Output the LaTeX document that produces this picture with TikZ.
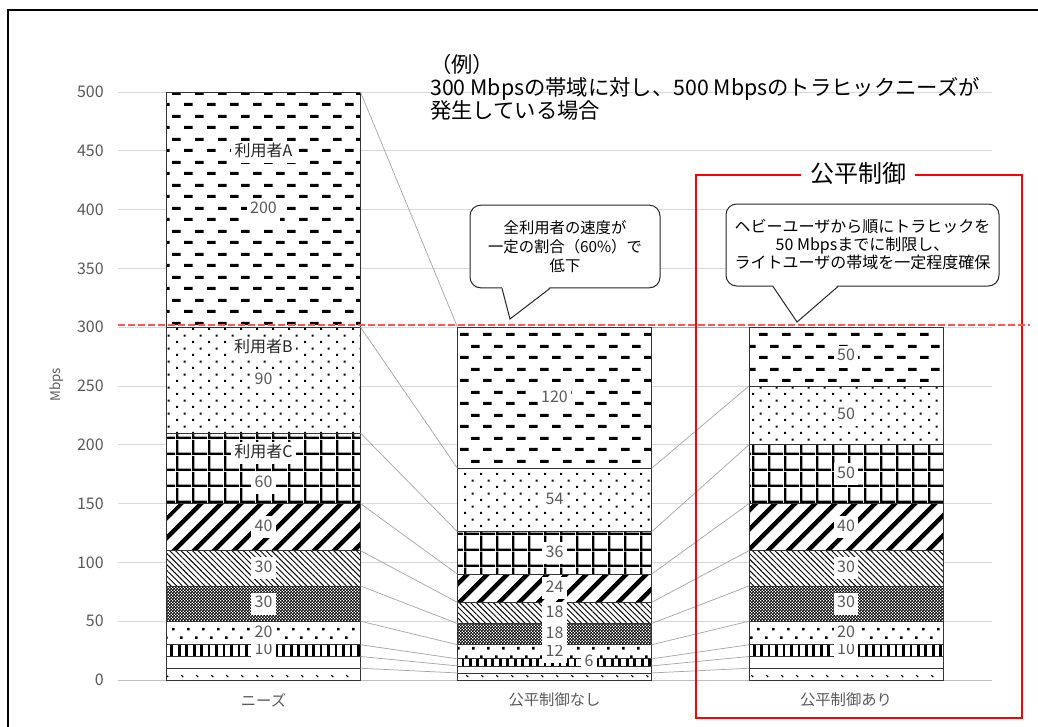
\documentclass[tikz,border=0pt]{standalone}
\usepackage{fontspec}
\setmainfont{Noto Sans CJK JP}
\usepackage{tikz}
\usetikzlibrary{patterns, patterns.meta, calc}

\definecolor{gridgray}{RGB}{217,217,217}
\definecolor{textgray}{RGB}{89,89,89}
\definecolor{seriesgray}{RGB}{166,166,166}
\definecolor{limitred}{RGB}{255,85,85}

% fill patterns of the stacked segments
\pgfdeclarepatternformonly{smallticks}{\pgfpointorigin}{\pgfqpoint{11.25pt}{9pt}}{\pgfqpoint{11.25pt}{9pt}}{
    \pgfsetlinewidth{0.8pt}
    \pgfpathmoveto{\pgfqpoint{1pt}{3pt}}
    \pgfpathlineto{\pgfqpoint{2.6pt}{1.4pt}}
    \pgfusepath{stroke}}
\pgfdeclarepatternformonly{bigdots}{\pgfpointorigin}{\pgfqpoint{11.25pt}{13pt}}{\pgfqpoint{11.25pt}{13pt}}{
    \pgfpathrectangle{\pgfqpoint{0pt}{0pt}}{\pgfqpoint{2pt}{2pt}}
    \pgfpathrectangle{\pgfqpoint{5.625pt}{6.5pt}}{\pgfqpoint{2pt}{2pt}}
    \pgfusepath{fill}}
\pgfdeclarepatternformonly{finechecker}{\pgfpointorigin}{\pgfqpoint{2.4pt}{2.4pt}}{\pgfqpoint{2.4pt}{2.4pt}}{
    \pgfpathrectangle{\pgfqpoint{0pt}{0pt}}{\pgfqpoint{1.5pt}{1.5pt}}
    \pgfpathrectangle{\pgfqpoint{1.2pt}{1.2pt}}{\pgfqpoint{1.5pt}{1.5pt}}
    \pgfusepath{fill}}
\pgfdeclarepatternformonly{bargrid}{\pgfpointorigin}{\pgfqpoint{12pt}{12pt}}{\pgfqpoint{12pt}{12pt}}{
    \pgfpathrectangle{\pgfqpoint{0pt}{0pt}}{\pgfqpoint{12pt}{1.9pt}}
    \pgfpathrectangle{\pgfqpoint{0pt}{0pt}}{\pgfqpoint{1.9pt}{12pt}}
    \pgfusepath{fill}}
\pgfdeclarepatternformonly{finedots}{\pgfpointorigin}{\pgfqpoint{12pt}{10pt}}{\pgfqpoint{12pt}{10pt}}{
    \pgfpathrectangle{\pgfqpoint{0pt}{0pt}}{\pgfqpoint{1.6pt}{1.6pt}}
    \pgfpathrectangle{\pgfqpoint{6pt}{5pt}}{\pgfqpoint{1.6pt}{1.6pt}}
    \pgfusepath{fill}}
\pgfdeclarepatternformonly{hdash}{\pgfpointorigin}{\pgfqpoint{17.25pt}{17.25pt}}{\pgfqpoint{17.25pt}{17.25pt}}{
    \pgfpathrectangle{\pgfqpoint{0pt}{0pt}}{\pgfqpoint{6.75pt}{2.4pt}}
    \pgfpathrectangle{\pgfqpoint{8.625pt}{8.625pt}}{\pgfqpoint{6.75pt}{2.4pt}}
    \pgfusepath{fill}}

\tikzstyle{seg} = [
    draw=black!80, line width=0.6pt,
    preaction={fill=white},
    minimum width=145.5pt,
    inner sep=0pt, outer sep=0pt, anchor=south]
\tikzstyle{p1} = [pattern=smallticks]
\tikzstyle{p2} = [fill=white, path picture={
    \fill (path picture bounding box.north west) rectangle ([yshift=-2pt]path picture bounding box.north east);
    \fill (path picture bounding box.south west) rectangle ($(path picture bounding box.south east)!0.45!(path picture bounding box.north east)$);}]
\tikzstyle{p3} = [pattern={Lines[angle=90, distance=5.6pt, line width=2.1pt]}]
\tikzstyle{p4} = [pattern=bigdots]
\tikzstyle{p5} = [pattern=finechecker]
\tikzstyle{p6} = [pattern={Lines[angle=-45, distance=3pt, line width=0.7pt]}]
\tikzstyle{p7} = [pattern={Lines[angle=45, distance=10.5pt, line width=3.4pt]}]
\tikzstyle{p8} = [pattern=bargrid]
\tikzstyle{p9} = [pattern=finedots]
\tikzstyle{p10} = [pattern=hdash]
\tikzstyle{val} = [
    fill=white, inner xsep=2.5pt, inner ysep=2.5pt,
    text height=9pt, text depth=2.5pt,
    text=textgray, font=\fontsize{12}{12}\selectfont]
\tikzstyle{who} = [val, text=black!85]
\tikzstyle{series} = [seriesgray, line width=0.55pt]
\tikzstyle{gridline} = [gridgray, line width=0.6pt]
\tikzstyle{tick} = [anchor=east, inner sep=0pt, text=textgray, font=\fontsize{12}{12}\selectfont]
\tikzstyle{cat} = [text=textgray, font=\fontsize{11.5}{12}\selectfont]
\tikzstyle{note} = [
    draw=black!85, line width=0.75pt,
    rounded corners=8pt, fill=white,
    align=center, inner sep=0pt]
\tikzstyle{pointer} = [draw=black!85, line width=0.75pt, line join=miter]
\tikzstyle{limit} = [limitred, line width=1.1pt, dash pattern=on 5pt off 2.5pt]
\tikzstyle{fairbox} = [red, line width=1.1pt]

\begin{document}
\begin{tikzpicture}[x=0.75pt, y=-0.75pt]
    \useasboundingbox (0,0) rectangle (1038,726);
    \draw[line width=1.1pt] (8,10) rectangle (1060,740);

    % axis and grid
    \foreach \v in {50,100,...,500}
        \draw[gridline] (118,680-1.176*\v) -- (992,680-1.176*\v);
    \draw[black!25, line width=0.75pt] (118,680) -- (992,680);
    \foreach \v in {0,50,...,500}
        \node[tick] (t\v) at (104,680-1.176*\v) {\v};
    \node[rotate=90, text=textgray, font=\fontsize{10}{10}\selectfont] (ytitle) at (57,385) {Mbps};

    % stacked bars (y in Mbps)
    \begin{scope}[shift={(0,680)}, y=0.882pt]
        \foreach \k/\lo/\h in {1/0/10, 2/10/10, 3/20/10, 4/30/20, 5/50/30, 6/80/30, 7/110/40, 8/150/60, 9/210/90, 10/300/200}
            \node[seg, p\k, minimum height=\h*0.882pt] (need\k) at (263.5,\lo) {};
        \foreach \k/\lo/\h in {1/0/6, 2/6/6, 3/12/6, 4/18/12, 5/30/18, 6/48/18, 7/66/24, 8/90/36, 9/126/54, 10/180/120}
            \node[seg, p\k, minimum height=\h*0.882pt] (off\k) at (554.5,\lo) {};
        \foreach \k/\lo/\h in {1/0/10, 2/10/10, 3/20/10, 4/30/20, 5/50/30, 6/80/30, 7/110/40, 8/150/50, 9/200/50, 10/250/50}
            \node[seg, p\k, minimum height=\h*0.882pt] (on\k) at (846,\lo) {};
    \end{scope}

    % series lines
    \foreach \k in {1,...,10} {
        \draw[series] (need\k.north east) -- (off\k.north west);
        \draw[series] (off\k.north east) -- (on\k.north west);
    }

    % data labels
    \foreach \k/\t in {3/10, 4/20, 5/30, 6/30, 7/40, 9/90, 10/200}
        \node[val] (lneed\k) at (need\k) {\t};
    \node[val] (lneed8) at ([yshift=-11.25pt]need8.center) {60};
    \node[who] (userC) at ([yshift=11.25pt]need8.center) {利用者C};
    \node[who] (userB) at ([yshift=24pt]need9.center) {利用者B};
    \node[who] (userA) at ([yshift=43pt]need10.center) {利用者A};

    \foreach \k/\t in {4/12, 5/18, 6/18, 7/24, 8/36, 9/54, 10/120}
        \node[val] (loff\k) at (off\k) {\t};
    \node[val] (loff3) at ([xshift=26pt]off3.center) {6};

    \foreach \k/\t in {3/10, 4/20, 5/30, 6/30, 7/40, 8/50, 9/50, 10/50}
        \node[val] (lon\k) at (on\k) {\t};

    % categories
    \node[cat] (cat1) at (263.5,700) {ニーズ};
    \node[cat] (cat2) at (554.5,700) {公平制御なし};
    \node[cat] (cat3) at (846,700) {公平制御あり};

    % 300 Mbps limit and fair-control box
    \draw[fairbox] (696,175) rectangle (1022,718);
    \node[fill=white, inner xsep=7pt, font=\fontsize{18}{18}\selectfont] (fairtitle) at (858,173) {公平制御};
    \draw[limit] (118,325) -- (1030,325);

    \node[anchor=west, align=left, inner sep=0pt, font=\fontsize{16}{17.25}\selectfont] (example) at (430,87)
        {（例）\\300 Mbpsの帯域に対し、500 Mbpsのトラヒックニーズが\\発生している場合};

    % callouts
    \node[note, minimum width=142.5pt, minimum height=62pt, font=\fontsize{11.5}{14.25}\selectfont] (note1) at (565,246.5)
        {全利用者の速度が\\一定の割合（60\%）で\\低下};
    \coordinate (tip1) at (510,319);
    \fill[white] ($(note1.south)+(-63,-1.5)$) -- (tip1) -- ($(note1.south)+(-15,-1.5)$) -- cycle;
    \draw[pointer] ($(note1.south)+(-63,0)$) -- (tip1) -- ($(note1.south)+(-15,0)$);

    \node[note, minimum width=204.75pt, minimum height=61.5pt, font=\fontsize{12}{13.5}\selectfont] (note2) at (862.5,245)
        {ヘビーユーザから順にトラヒックを\\50 Mbpsまでに制限し、\\ライトユーザの帯域を一定程度確保};
    \coordinate (tip2) at (797,322);
    \fill[white] ($(note2.south)+(-89.5,-1.5)$) -- (tip2) -- ($(note2.south)+(-24.5,-1.5)$) -- cycle;
    \draw[pointer] ($(note2.south)+(-89.5,0)$) -- (tip2) -- ($(note2.south)+(-24.5,0)$);
\end{tikzpicture}
\end{document}
